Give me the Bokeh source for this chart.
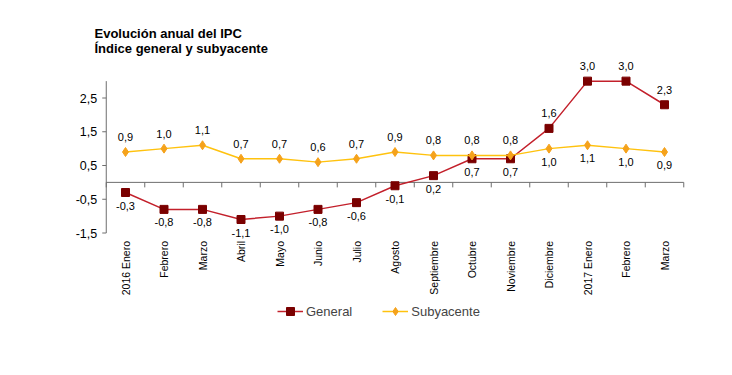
import math
from bokeh.plotting import figure
from bokeh.models import Range1d, Legend, LegendItem, ColumnDataSource
from bokeh.core.properties import value
from bokeh.embed import file_html
from bokeh.resources import INLINE

# ---- data ----
months = ["2016 Enero", "Febrero", "Marzo", "Abril", "Mayo", "Junio", "Julio", "Agosto",
          "Septiembre", "Octubre", "Noviembre", "Diciembre", "2017 Enero", "Febrero", "Marzo"]
general = [-0.3, -0.8, -0.8, -1.1, -1.0, -0.8, -0.6, -0.1, 0.2, 0.7, 0.7, 1.6, 3.0, 3.0, 2.3]
subyacente = [0.9, 1.0, 1.1, 0.7, 0.7, 0.6, 0.7, 0.9, 0.8, 0.8, 0.8, 1.0, 1.1, 1.0, 0.9]
y_ticks = [-1.5, -0.5, 0.5, 1.5, 2.5]
y_min, y_max = -1.5, 3.0
title_lines = ["Evolución anual del IPC", "Índice general y subyacente"]

# ---- style / layout ----
FONT = "Liberation Sans"
GEN_LINE = "#C3202B"
GEN_MARK = "#7A0000"
SUB_LINE = "#FFC20E"
SUB_MARK = "#F5A21B"
AXIS = "#6E6E6E"

W, H = 720, 360
PX_CAT = 38.5          # pixels per category
PX_UNIT = 33.75        # pixels per y unit
LEFT_PX = 105.75       # pixel x of plot area left edge
BOTTOM_PX = 232.5      # pixel y of y_min

x_start = -0.5 - LEFT_PX / PX_CAT
x_end = x_start + W / PX_CAT
y_top = y_min + BOTTOM_PX / PX_UNIT
y_bot = y_top - H / PX_UNIT

def fmt(v):
    return f"{v:.1f}".replace(".", ",")

n = len(months)
xs = list(range(n))
split = 11  # from Diciembre onward labels swap side

p = figure(output_backend="svg", toolbar_location=None, width=W, height=H,
           min_border=0, min_border_left=0, min_border_right=0,
           min_border_top=0, min_border_bottom=0,
           x_range=Range1d(x_start, x_end), y_range=Range1d(y_bot, y_top))
p.outline_line_color = None
p.grid.visible = False
p.xaxis.visible = False
p.yaxis.visible = False
p.background_fill_color = "white"
p.border_fill_color = "white"

# ---- title ----
tx = x_start + 94 / PX_CAT
ty = [y_top - 33 / PX_UNIT, y_top - 48 / PX_UNIT]
p.text(x=[tx, tx], y=ty, text=title_lines, text_align="left", text_baseline="middle",
       text_font=value(FONT), text_font_size="13px", text_font_style="bold",
       text_color="#000000")

# ---- y axis ----
x_axis = -0.5
p.segment(x0=[x_axis], x1=[x_axis], y0=[y_min], y1=[y_max], line_color=AXIS, line_width=1)
tick_len = 4 / PX_CAT
p.segment(x0=[x_axis] * len(y_ticks), x1=[x_axis - tick_len] * len(y_ticks),
          y0=y_ticks, y1=y_ticks, line_color=AXIS, line_width=1)
p.text(x=[x_axis] * len(y_ticks), y=y_ticks, text=[fmt(v) for v in y_ticks],
       x_offset=-9, text_align="right", text_baseline="middle",
       text_font=value(FONT), text_font_size="12.5px", text_color="#000000")

# ---- x axis at zero ----
p.segment(x0=[-0.5], x1=[n - 0.5], y0=[0], y1=[0], line_color=AXIS, line_width=1)
bounds = [i + 0.5 for i in range(-1, n)]
p.segment(x0=bounds, x1=bounds, y0=[0] * len(bounds), y1=[-5 / PX_UNIT] * len(bounds),
          line_color=AXIS, line_width=1)
p.text(x=xs, y=[y_min] * n, text=months, angle=math.pi / 2, y_offset=8,
       text_align="right", text_baseline="middle",
       text_font=value(FONT), text_font_size="10.5px", text_color="#000000")

# ---- series ----
gl = p.line(xs, general, line_color=GEN_LINE, line_width=1.5)
gm = p.scatter(xs, general, marker="square", size=8, fill_color=GEN_MARK, line_color=GEN_MARK)
sl = p.line(xs, subyacente, line_color=SUB_LINE, line_width=1.5)
sm = p.scatter(xs, subyacente, marker="diamond", size=9, fill_color=SUB_MARK, line_color=SUB_MARK)

# ---- data labels ----
def labels(vals, above_mask):
    up = ColumnDataSource(dict(x=[x for x, a in zip(xs, above_mask) if a],
                               y=[v for v, a in zip(vals, above_mask) if a],
                               t=[fmt(v) for v, a in zip(vals, above_mask) if a]))
    dn = ColumnDataSource(dict(x=[x for x, a in zip(xs, above_mask) if not a],
                               y=[v for v, a in zip(vals, above_mask) if not a],
                               t=[fmt(v) for v, a in zip(vals, above_mask) if not a]))
    p.text(x="x", y="y", text="t", source=up, text_align="center", text_baseline="middle",
           y_offset=-15, text_font=value(FONT), text_font_size="11px", text_color="#000000")
    p.text(x="x", y="y", text="t", source=dn, text_align="center", text_baseline="middle",
           y_offset=13, text_font=value(FONT), text_font_size="11px", text_color="#000000")

labels(general, [i >= split for i in xs])
labels(subyacente, [i < split for i in xs])

# ---- legend ----
legend = Legend(items=[LegendItem(label="General", renderers=[gl, gm]),
                       LegendItem(label="Subyacente", renderers=[sl, sm])],
                orientation="horizontal", location=(277, H - 321),
                label_text_font=FONT, label_text_font_size="13px",
                glyph_width=26, label_standoff=3, spacing=30, border_line_color=None,
                background_fill_alpha=0, margin=0, padding=0)
p.add_layout(legend)

open("out.html", "w").write(file_html(p, INLINE))
